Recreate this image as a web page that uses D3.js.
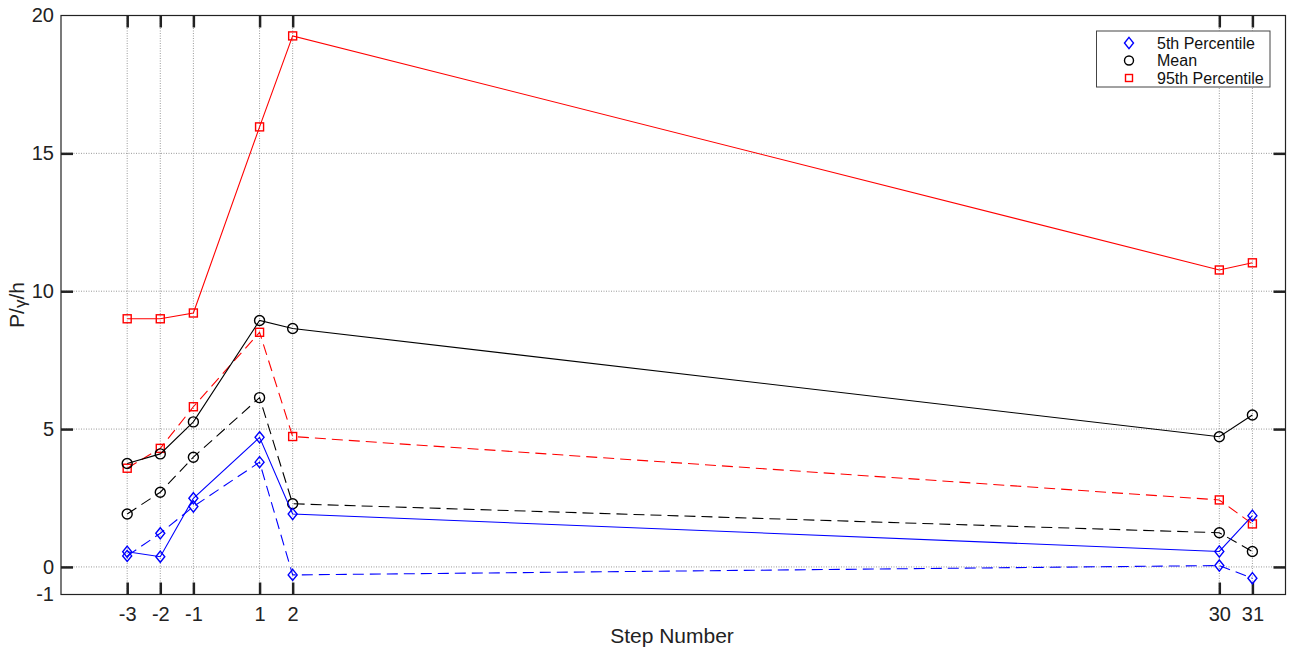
<!DOCTYPE html>
<html>
<head>
<meta charset="utf-8">
<script src="https://cdn.jsdelivr.net/npm/d3@7"></script>
<style>
  html, body { margin: 0; padding: 0; background: #fff; }
  svg { display: block; font-family: "Liberation Sans", Arial, sans-serif; }
</style>
</head>
<body>
<svg id="chart" width="1296" height="652"></svg>
<script>
// Step numbers along the x axis
const steps = [-3, -2, -1, 1, 2, 30, 31];
const xTicks = [-3, -2, -1, 1, 2, 30, 31];
const yTicks = [-1, 0, 5, 10, 15, 20];

// Solid series
const p5Solid   = [0.55, 0.37, 2.49, 4.70, 1.92, 0.56, 1.86];
const meanSolid = [3.75, 4.10, 5.26, 8.94, 8.65, 4.72, 5.51];
const p95Solid  = [9.00, 9.00, 9.21, 15.96, 19.26, 10.77, 11.03];

// Dashed series
const p5Dashed   = [0.40, 1.22, 2.19, 3.80, -0.29, 0.05, -0.41];
const meanDashed = [1.92, 2.71, 3.98, 6.14, 2.29, 1.24, 0.56];
const p95Dashed  = [3.58, 4.30, 5.81, 8.51, 4.73, 2.43, 1.56];

const legendLabels = ["5th Percentile", "Mean", "95th Percentile"];

const svg = d3.select("#chart");
const pL = 61, pR = 1285.5, pT = 15.5, pB = 594.5;

const x = d3.scaleLinear().domain([-5, 32]).range([pL, pR]);
const y = d3.scaleLinear().domain([-1, 20]).range([pB, pT]);

// Plain hyphen-minus labels
const fmt = d => String(d);

// Dotted grid
const grid = svg.append("g");
grid.selectAll("line.gx").data(xTicks).join("line")
  .attr("x1", d => x(d)).attr("x2", d => x(d))
  .attr("y1", pT).attr("y2", pB)
  .attr("stroke", "#999").attr("stroke-width", 1).attr("stroke-dasharray", "1,1.5");
grid.selectAll("line.gy").data(yTicks.filter(d => d !== -1 && d !== 20)).join("line")
  .attr("x1", pL).attr("x2", pR)
  .attr("y1", d => y(d)).attr("y2", d => y(d))
  .attr("stroke", "#999").attr("stroke-width", 1).attr("stroke-dasharray", "1,1.5");

// Axes with inward ticks
const tickLen = 12;
const axB = svg.append("g").attr("transform", `translate(0,${pB})`)
  .call(d3.axisBottom(x).tickValues(xTicks).tickSizeInner(-tickLen).tickSizeOuter(0).tickPadding(12).tickFormat(fmt));
const axT = svg.append("g").attr("transform", `translate(0,${pT})`)
  .call(d3.axisTop(x).tickValues(xTicks).tickSizeInner(-tickLen).tickSizeOuter(0).tickFormat(""));
const axL = svg.append("g").attr("transform", `translate(${pL},0)`)
  .call(d3.axisLeft(y).tickValues(yTicks).tickSizeInner(-tickLen).tickSizeOuter(0).tickPadding(7).tickFormat(fmt));
const axR = svg.append("g").attr("transform", `translate(${pR},0)`)
  .call(d3.axisRight(y).tickValues(yTicks).tickSizeInner(-tickLen).tickSizeOuter(0).tickFormat(""));

[axB, axT, axL, axR].forEach(a => {
  a.select(".domain").remove();
  a.selectAll(".tick line").attr("stroke", "#222").attr("stroke-width", 2.5);
  a.selectAll(".tick text").attr("fill", "#222").attr("font-size", 20)
    .attr("font-family", "'Liberation Sans', Arial, sans-serif");
});
axB.selectAll(".tick text").attr("dy", "0.71em");
// No inward tick marks drawn at the -1 / 20 ends
axL.selectAll(".tick").filter(d => d === -1 || d === 20).select("line").remove();
axR.selectAll(".tick").filter(d => d === -1 || d === 20).select("line").remove();

// Frame
svg.append("rect").attr("x", pL).attr("y", pT)
  .attr("width", pR - pL).attr("height", pB - pT)
  .attr("fill", "none").attr("stroke", "#222").attr("stroke-width", 1.2);

// Axis titles
svg.append("text").attr("x", 672).attr("y", 643)
  .attr("text-anchor", "middle").attr("font-size", 21).attr("fill", "#222")
  .text("Step Number");
const yl = svg.append("text")
  .attr("transform", `translate(24,${(pT + pB) / 2}) rotate(-90)`)
  .attr("text-anchor", "middle").attr("font-size", 21).attr("fill", "#222");
yl.append("tspan").text("P/");
yl.append("tspan").attr("font-size", 17).attr("dy", 2).text("γ");
yl.append("tspan").attr("dy", -2).text("/h");

// Marker shapes
const markers = {
  diamond: (g, cx, cy, color, s) => g.append("path")
    .attr("d", `M${cx},${cy - s * 0.62}L${cx + s * 0.5},${cy}L${cx},${cy + s * 0.62}L${cx - s * 0.5},${cy}Z`)
    .attr("fill", "none").attr("stroke", color).attr("stroke-width", 1.4),
  circle: (g, cx, cy, color, s) => g.append("circle")
    .attr("cx", cx).attr("cy", cy).attr("r", s / 2)
    .attr("fill", "none").attr("stroke", color).attr("stroke-width", 1.4),
  square: (g, cx, cy, color, s) => g.append("rect")
    .attr("x", cx - s / 2).attr("y", cy - s / 2).attr("width", s).attr("height", s)
    .attr("fill", "none").attr("stroke", color).attr("stroke-width", 1.4)
};

const series = [
  { vals: p95Dashed,  color: "#ff0000", dash: "11,6", shape: "square",  size: 8 },
  { vals: meanDashed, color: "#000000", dash: "11,6", shape: "circle",  size: 10 },
  { vals: p5Dashed,   color: "#0000ff", dash: "11,6", shape: "diamond", size: 9 },
  { vals: p95Solid,   color: "#ff0000", dash: null,   shape: "square",  size: 8 },
  { vals: meanSolid,  color: "#000000", dash: null,   shape: "circle",  size: 10 },
  { vals: p5Solid,    color: "#0000ff", dash: null,   shape: "diamond", size: 9 }
];

const line = d3.line().x(d => x(d[0])).y(d => y(d[1]));
series.forEach(s => {
  const pts = steps.map((st, i) => [st, s.vals[i]]);
  const g = svg.append("g");
  g.append("path").attr("d", line(pts))
    .attr("fill", "none").attr("stroke", s.color).attr("stroke-width", 1.1)
    .attr("stroke-dasharray", s.dash);
  pts.forEach(p => markers[s.shape](g, x(p[0]), y(p[1]), s.color, s.size));
});

// Legend
const lg = svg.append("g");
lg.append("rect").attr("x", 1096.5).attr("y", 31).attr("width", 173.5).attr("height", 56)
  .attr("fill", "#fff").attr("stroke", "#444").attr("stroke-width", 1);
const legendShapes = [
  { shape: "diamond", color: "#0000ff", size: 9 },
  { shape: "circle",  color: "#000000", size: 9 },
  { shape: "square",  color: "#ff0000", size: 7 }
];
legendLabels.forEach((lab, i) => {
  const cy = 43 + i * 17.5;
  markers[legendShapes[i].shape](lg, 1129, cy, legendShapes[i].color, legendShapes[i].size);
  lg.append("text").attr("x", 1157).attr("y", cy + 5.5)
    .attr("font-size", 16).attr("fill", "#111").text(lab);
});
</script>
</body>
</html>
